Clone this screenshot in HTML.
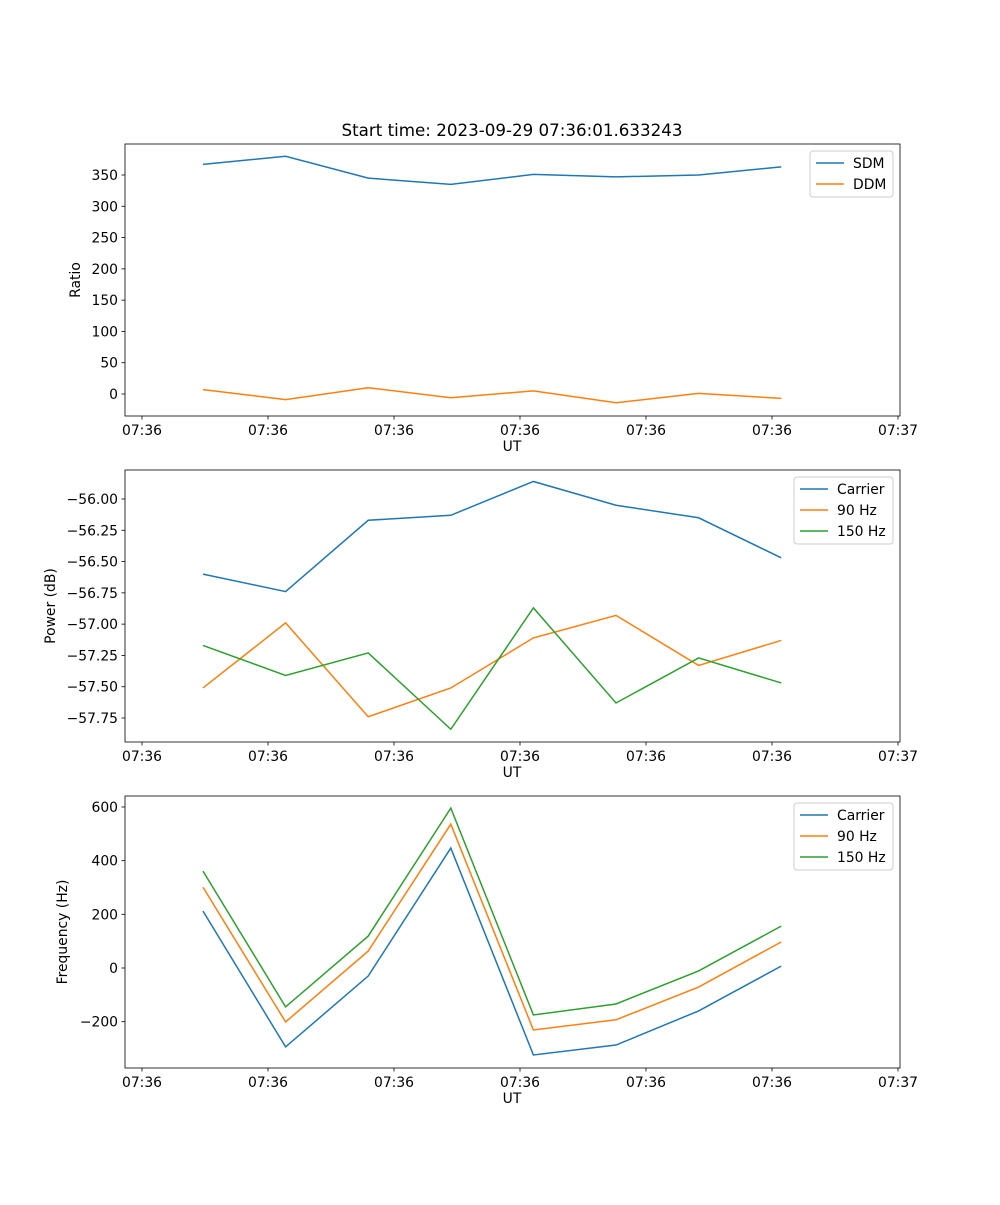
<!DOCTYPE html>
<html><head><meta charset="utf-8"><style>
body{margin:0;background:#fff}
svg text{font-family:"DejaVu Sans","Liberation Sans",sans-serif;font-size:13.9px;fill:#000}
</style></head><body>
<svg id="fig" width="1000" height="1200" xmlns="http://www.w3.org/2000/svg">
<text x="512" y="136" text-anchor="middle" style="font-size:16.7px">Start time: 2023-09-29 07:36:01.633243</text>
</svg>
<script>
const xTickLabels=["07:36","07:36","07:36","07:36","07:36","07:36","07:37"];
const xIdx=[0,1,2,3,4,5,6,7];
const sdm=[367,380,345,335,351,347,350,363];
const ddm=[7,-9,10,-6,5,-14,1,-7];
const pCarrier=[-56.6,-56.74,-56.17,-56.13,-55.86,-56.05,-56.15,-56.47];
const p90=[-57.51,-56.99,-57.74,-57.51,-57.11,-56.93,-57.33,-57.13];
const p150=[-57.17,-57.41,-57.23,-57.84,-56.87,-57.63,-57.27,-57.47];
const fCarrier=[212,-294,-30,447,-324,-287,-160,7];
const f90=[301,-201,63,536,-231,-193,-71,97];
const f150=[361,-145,119,596,-175,-134,-11,156];
const ticks1=[0,50,100,150,200,250,300,350];
const ticks2=[-57.75,-57.5,-57.25,-57,-56.75,-56.5,-56.25,-56];
const ticks3=[-200,0,200,400,600];
const C=['#1f77b4','#ff7f0e','#2ca02c'];
const svg=document.getElementById('fig');
const NS='http://www.w3.org/2000/svg';
function mk(t,a,p){const e=document.createElementNS(NS,t);for(const k in a)e.setAttribute(k,a[k]);(p||svg).appendChild(e);return e;}
const xs=i=>203+i*82.6;
function panel(name,top,yv0,yp0,yv1,yp1,ticks,fmt,ylabel,ylx,series,names,legW){
  const g=mk('g',{});
  
  
  const L=125,R=900,T=top,B=top+272;
  const ys=v=>yp0+(v-yv0)*(yp1-yp0)/(yv1-yv0);
  series.forEach((s,k)=>{
    const pl=mk('polyline',{points:s.map((v,i)=>xs(xIdx[i])+','+ys(v)).join(' '),fill:'none',stroke:C[k],'stroke-width':1.5},g);
    
    
  });
  mk('rect',{x:L,y:T,width:R-L,height:B-T,fill:'none',stroke:'#000','stroke-width':0.8},g);
  xTickLabels.forEach((l,i)=>{const x=142+126*i;
    mk('line',{x1:x,y1:B,x2:x,y2:B+3.5,stroke:'#000','stroke-width':0.8},g);
    const t=mk('text',{x:x,y:B+19,'text-anchor':'middle'},g);t.textContent=l;
    
    
  });
  const xl=mk('text',{x:512,y:B+35,'text-anchor':'middle'},g);xl.textContent='UT';
  
  
  ticks.forEach(v=>{const y=ys(v);
    mk('line',{x1:L-3.5,y1:y,x2:L,y2:y,stroke:'#000','stroke-width':0.8},g);
    const t=mk('text',{x:L-7,y:y+5,'text-anchor':'end'},g);t.textContent=fmt(v);
    
    
  });
  const yl=mk('text',{x:ylx,y:(T+B)/2,'text-anchor':'middle',transform:`rotate(-90 ${ylx} ${(T+B)/2})`},g);yl.textContent=ylabel;
  
  
  const lg=mk('g',{},g);
  
  
  const lx=893-legW,ly=T+7;
  mk('rect',{x:lx,y:ly,width:legW,height:names.length*21+4,fill:'#fff',stroke:'#ccc',rx:3},lg);
  names.forEach((n,k)=>{const y=ly+12+k*21;
    mk('line',{x1:lx+6,y1:y,x2:lx+34,y2:y,stroke:C[k],'stroke-width':1.5},lg);
    const t=mk('text',{x:lx+43,y:y+5},lg);t.textContent=n;
    
    
  });
}
panel('ratio',144,0,394,350,175,ticks1,v=>String(v),'Ratio',80,[sdm,ddm],['SDM','DDM'],83);
panel('power',470,-56,499,-57.75,718,ticks2,v=>v.toFixed(2).replace('-','−'),'Power (dB)',55,[pCarrier,p90,p150],['Carrier','90 Hz','150 Hz'],99);
panel('frequency',796,0,968,600,807,ticks3,v=>String(v).replace('-','−'),'Frequency (Hz)',67,[fCarrier,f90,f150],['Carrier','90 Hz','150 Hz'],99);
</script>
</body></html>
